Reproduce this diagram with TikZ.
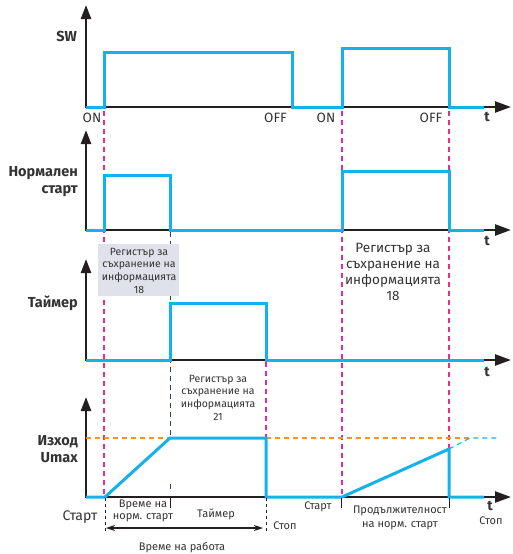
\documentclass[tikz,border=0pt]{standalone}
\usepackage{fontspec}
\setmainfont{Fira Sans}
\usetikzlibrary{arrows.meta}
\definecolor{sig}{HTML}{12B2EA}
\definecolor{pinkd}{HTML}{EC2A8E}
\definecolor{navyd}{HTML}{2E3A8C}
\definecolor{orng}{HTML}{F7941D}
\definecolor{txt}{HTML}{333333}
\definecolor{axc}{HTML}{231F20}
\definecolor{boxc}{HTML}{DFE2EA}
\tikzset{
  axis/.style={draw=axc, line width=2.4pt, -{Triangle[length=16pt,width=11pt]}},
  yax/.style={draw=axc, line width=2.4pt, -{Triangle[length=14pt,width=10pt]}},
  signal/.style={draw=sig, line width=3pt, line join=miter},
  pdash/.style={draw=pinkd, line width=1.1pt, dash pattern=on 5pt off 4pt},
  ndash/.style={draw=navyd, line width=1pt, dash pattern=on 5pt off 4pt},
  kdash/.style={draw=axc, line width=1pt, dash pattern=on 3pt off 3pt},
  tick/.style={draw=axc, line width=1pt},
  lbl/.style={text=txt, font=\fontsize{13.5}{14}\selectfont, inner sep=0pt},
  blbl/.style={text=txt, font=\fontsize{14.5}{17}\selectfont\bfseries, inner sep=0pt, align=right},
  small/.style={text=txt, font=\fontsize{10.5}{12.7}\selectfont, inner sep=0pt, align=center},
  mid/.style={text=txt, font=\fontsize{13.5}{16}\selectfont, inner sep=0pt, align=center},
  tl/.style={text=txt, font=\fontsize{14}{14}\selectfont\bfseries, inner sep=0pt},
}
\begin{document}
\begin{tikzpicture}[x=1pt,y=-1pt]
\useasboundingbox (0,0) rectangle (512,554);
% guide lines
\draw[pdash] (104,111) -- (104,497);
\draw[pdash] (342,111) -- (342,497);
\draw[pdash] (449,111) -- (449,449);
\draw[pdash] (266,362) -- (266,438);
\draw[ndash] (170,232) -- (170,438);
\draw[ndash] (170,484) -- (170,491);
% register box
\node[fill=boxc, minimum width=81pt, minimum height=52pt, inner sep=0pt] (box) at (138.5,270) {};
\node[small] (reg18a) at (139,270.5) {Регистър за\\съхранение на\\информацията\\18};
% panel 1
\draw[axis] (86,107) -- (511,107);
\draw[yax] (86,108) -- (86,5);
\draw[signal] (86,107) -- (104,107) -- (104,52) -- (292,52) -- (292,107) -- (342,107) -- (342,48) -- (449,48) -- (449,107) -- (484,107);
\node[blbl, anchor=east] (sw) at (77,36) {SW};
\node[lbl] (on1) at (92,118) {ON};
\node[lbl] (off1) at (275.5,118) {OFF};
\node[lbl] (on2) at (326,118) {ON};
\node[lbl] (off2) at (431,118) {OFF};
\node[tl] (t1) at (487,117) {t};
% panel 2
\draw[axis] (86,230) -- (511,230);
\draw[yax] (86,231) -- (86,130);
\draw[signal] (86,230) -- (104,230) -- (104,175) -- (170,175) -- (170,230) -- (342,230) -- (342,171) -- (449,171) -- (449,230) -- (484,230);
\node[blbl, anchor=east] (ns) at (78,182) {Нормален\\старт};
\node[tl] (t2) at (487,241) {t};
\node[mid] (reg18b) at (393,271.5) {Регистър за\\съхранение на\\информацията\\18};
% panel 3
\draw[axis] (86,360) -- (511,360);
\draw[yax] (86,361) -- (86,259);
\draw[signal] (86,360) -- (170,360) -- (170,303) -- (266,303) -- (266,360) -- (484,360);
\node[blbl, anchor=east] (tm) at (78,303) {Таймер};
\node[tl] (t3) at (487,372) {t};
\node[small] (reg21) at (218,397.5) {Регистър за\\съхранение на\\информацията\\21};
% panel 4
\draw[axis] (86,497) -- (511,497);
\draw[yax] (86,498) -- (86,397);
\draw[orng, line width=1.1pt, dash pattern=on 5pt off 4pt] (86,438) -- (470,438);
\draw[sig, line width=1.1pt, dash pattern=on 5pt off 4pt] (449,449) -- (470,438) -- (498,438);
\draw[signal] (86,497) -- (105,497) -- (170,438) -- (266,438) -- (266,497) -- (342,497) -- (449,449) -- (449,497) -- (484,497);
\node[blbl, anchor=east] (out) at (78,449) {Изход\\Umax};
% bottom ticks
\draw[kdash] (105,498) -- (105,533);
\draw[kdash] (266,498) -- (266,533);
\draw[tick] (170,498) -- (170,508);
\draw[tick] (341,498) -- (341,508);
\draw[tick] (449,498) -- (449,508);
\coordinate (wa) at (106,528);
\coordinate (wb) at (263,528);
\draw[axc, line width=1.1pt, {Stealth[length=9pt,width=6pt]}-{Stealth[length=9pt,width=6pt]}] (wa) -- (wb);
\node[text=txt, font=\fontsize{14}{14}\selectfont, inner sep=0pt] (st1) at (80,517) {Старт};
\node[small, font=\fontsize{11}{12}\selectfont] (vns) at (143,510.5) {Време на\\норм. старт};
\node[small, font=\fontsize{11}{12}\selectfont] (tmr) at (216,514) {Таймер};
\node[small, font=\fontsize{11}{12}\selectfont] (sp1) at (285,526) {Стоп};
\node[small, font=\fontsize{11}{12}\selectfont] (vr) at (182,548) {Време на работа};
\node[small, font=\fontsize{11}{12}\selectfont] (st2) at (318,507) {Старт};
\node[small, font=\fontsize{11}{14}\selectfont] (pr) at (400,518) {Продължителност\\на норм. старт};
\node[tl] (t4) at (490,506) {t};
\node[small, font=\fontsize{11}{12}\selectfont] (sp2) at (491,521) {Стоп};
\end{tikzpicture}
\end{document}
